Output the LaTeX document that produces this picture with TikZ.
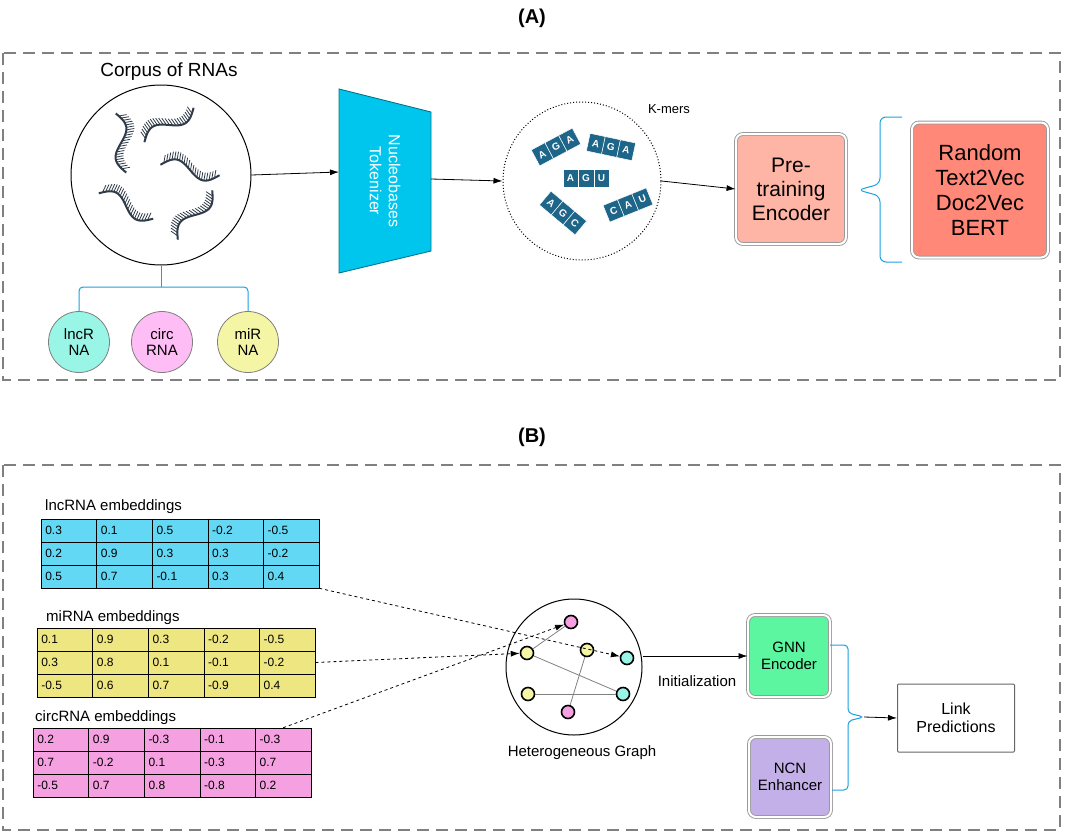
\documentclass[tikz,border=0pt]{standalone}
\usepackage{fontspec}
\setmainfont{Liberation Sans}
\usetikzlibrary{arrows.meta,positioning}
\definecolor{rnacol}{HTML}{2F3B48}
\definecolor{tilecol}{HTML}{1D6589}
\definecolor{tokcol}{HTML}{00C6EE}
\definecolor{lnccol}{HTML}{99F5E6}
\definecolor{circcol}{HTML}{FFBDF5}
\definecolor{mircol}{HTML}{F5F5A6}
\definecolor{precol}{HTML}{FFB5A5}
\definecolor{methcol}{HTML}{FF8878}
\definecolor{gnncol}{HTML}{5CF5A0}
\definecolor{ncncol}{HTML}{C3B0E8}
\definecolor{lnctab}{HTML}{62D8F5}
\definecolor{mirtab}{HTML}{EEE680}
\definecolor{circtab}{HTML}{F5A0E0}
\definecolor{bracecol}{HTML}{1A9FE0}
\definecolor{panelcol}{HTML}{808080}
\tikzset{
  panel/.style={draw=panelcol,line width=1.8pt,dash pattern=on 12pt off 7pt},
  arr/.style={-{Latex[length=9pt,width=6pt]},line width=0.8pt},
  dasharr/.style={arr,dashed},
  brace/.style={draw=bracecol,line width=1pt,rounded corners=4pt},
  rnacirc/.style={circle,draw=gray,line width=0.8pt,minimum size=61pt,inner sep=0pt,align=center,font=\fontsize{15}{16}\selectfont},
  dbox/.style={rounded corners=7pt,draw=gray!80,double=white,double distance=2pt,line width=0.9pt,align=center},
  cell/.style={draw,line width=0.6pt,minimum width=55.6pt,minimum height=23pt,inner sep=0pt,text width=47pt,align=left,font=\fontsize{12}{13}\selectfont},
  tablbl/.style={anchor=west,inner sep=0pt,font=\fontsize{15}{16}\selectfont},
  gnode/.style={circle,draw,line width=1.6pt,minimum size=13pt,inner sep=0pt},
  gedge/.style={draw=gray,line width=0.8pt},
}
% one strand of RNA: x, y, angle
\newcommand{\rnastrand}[3]{%
  \begin{scope}[shift={(#1,#2)},rotate=#3]
    \draw[rnacol,line width=2pt] plot[domain=-30:30,samples=25] (\x,{8*sin(6*\x)});
    \foreach \k in {-27,-24.5,...,27}
      \draw[rnacol,line width=0.8pt] (\k,{8*sin(6*\k)}) -- (\k,{8*sin(6*\k)-8});
  \end{scope}}
% one k-mer tile: x, y, angle, three letters
\newcommand{\kmertile}[6]{%
  \begin{scope}[shift={(#1,#2)},rotate=#3]
    \foreach \l [count=\i] in {#4,#5,#6}
      \node[fill=tilecol,draw=white,line width=0.5pt,minimum width=15.5pt,minimum height=18pt,inner sep=0pt,text=white,font=\fontsize{10}{10}\selectfont\bfseries,rotate=#3] at ({(\i-2)*15.5},0) {\l};
  \end{scope}}
\begin{document}
\begin{tikzpicture}[x=1pt,y=-1pt]
\useasboundingbox (0,0) rectangle (1065,835);
% (A)
\node[font=\fontsize{20}{22}\selectfont\bfseries] (titleA) at (532,18) {(A)};
\draw[panel] (3,53) rectangle (1060,380);
\node[font=\fontsize{19}{20}\selectfont] (corpuslbl) at (169,72) {Corpus of RNAs};
\node[circle,draw,line width=1pt,minimum size=180pt,inner sep=0pt] (corpus) at (161,175) {};
\rnastrand{121}{143}{-80}
\rnastrand{169}{125}{35}
\rnastrand{190}{170}{-10}
\rnastrand{126}{206}{-25}
\rnastrand{195}{215}{55}
\node[rnacirc,fill=lnccol] (lnc) at (79,342) {lncR\\NA};
\node[rnacirc,fill=circcol] (circ) at (162,342) {circ\\RNA};
\node[rnacirc,fill=mircol] (mir) at (248,342) {miR\\NA};
\coordinate (bsplit) at (161,287);
\draw[brace] (corpus.south) -- (bsplit);
\draw[brace] (lnc.north) -- (lnc.north |- bsplit) -- (mir.north |- bsplit) -- (mir.north);
% tokenizer
\coordinate (t1) at (339,89);
\coordinate (t2) at (431,112);
\coordinate (t3) at (431,251);
\coordinate (t4) at (339,273);
\fill[tokcol] (t1) -- (t2) -- (t3) -- (t4) -- cycle;
\draw[line width=0.9pt,tokcol!60!black] (t1) -- (t2) -- (t3) -- (t4) -- cycle;
\node[rotate=-90,text=white,align=center,font=\fontsize{16}{19}\selectfont] (tok) at (385,181) {Nucleobases\\Tokenizer};
\draw[arr] (corpus.east) -- (339,172);
% k-mers
\node[circle,draw,dotted,line width=1pt,minimum size=158pt,inner sep=0pt] (kmers) at (582,181) {};
\node[font=\fontsize{13}{14}\selectfont] (kmerlbl) at (669,109) {K-mers};
\draw[arr] (431,179) -- (kmers.west);
\kmertile{556}{147}{28}{A}{G}{A}
\kmertile{611}{147}{-12}{A}{G}{A}
\kmertile{586}{178}{0}{A}{G}{U}
\kmertile{563}{213}{-40}{A}{G}{C}
\kmertile{628}{205}{22}{C}{A}{U}
% encoder
\node[dbox,fill=precol,minimum width=110pt,minimum height=110pt,font=\fontsize{21}{24}\selectfont] (pre) at (791,189) {Pre-\\training\\Encoder};
\draw[arr] (kmers.east) -- (pre.west);
\node[dbox,fill=methcol,minimum width=136pt,minimum height=135pt,font=\fontsize{22}{25}\selectfont] (meth) at (980,190) {Random\\Text2Vec\\Doc2Vec\\BERT};
\draw[brace,rounded corners=6pt] (902,117) -- (880,117) -- (880,184) -- (858,190) -- (880,196) -- (880,262) -- (902,262);
% (B)
\node[font=\fontsize{20}{22}\selectfont\bfseries] (titleB) at (532,437) {(B)};
\draw[panel] (3,465) rectangle (1060,830);
\node[tablbl] (lnclbl) at (45,507) {lncRNA embeddings};
\node[tablbl] (mirlbl) at (46,618) {miRNA embeddings};
\node[tablbl] (circlbl) at (35,718) {circRNA embeddings};
\foreach \row [count=\r] in {{0.3,0.1,0.5,-0.2,-0.5},{0.2,0.9,0.3,0.3,-0.2},{0.5,0.7,-0.1,0.3,0.4}}
  \foreach \v [count=\c] in \row
    \node[cell,fill=lnctab] (lnc-\r-\c) at ({41+27.8+(\c-1)*55.6},{519+11.5+(\r-1)*23}) {\v};
\foreach \row [count=\r] in {{0.1,0.9,0.3,-0.2,-0.5},{0.3,0.8,0.1,-0.1,-0.2},{-0.5,0.6,0.7,-0.9,0.4}}
  \foreach \v [count=\c] in \row
    \node[cell,fill=mirtab] (mir-\r-\c) at ({37+27.8+(\c-1)*55.6},{628+11.5+(\r-1)*23}) {\v};
\foreach \row [count=\r] in {{0.2,0.9,-0.3,-0.1,-0.3},{0.7,-0.2,0.1,-0.3,0.7},{-0.5,0.7,0.8,-0.8,0.2}}
  \foreach \v [count=\c] in \row
    \node[cell,fill=circtab] (circ-\r-\c) at ({33+27.8+(\c-1)*55.6},{728+11.5+(\r-1)*23}) {\v};
% heterogeneous graph
\node[circle,draw,line width=1pt,minimum size=136pt,inner sep=0pt] (graph) at (574,667) {};
\node[font=\fontsize{15}{16}\selectfont] (graphlbl) at (582,753) {Heterogeneous Graph};
\node[gnode,fill=circtab] (gp1) at (571,622) {};
\node[gnode,fill=mircol] (gy1) at (527,653) {};
\node[gnode,fill=mircol] (gy2) at (587,650) {};
\node[gnode,fill=lnccol] (gc1) at (627,658) {};
\node[gnode,fill=mircol] (gy3) at (528,694) {};
\node[gnode,fill=lnccol] (gc2) at (623,694) {};
\node[gnode,fill=circtab] (gp2) at (568,712) {};
\draw[gedge] (gy1) -- (gp1);
\draw[gedge] (gy1) -- (gc2);
\draw[gedge] (gy3) -- (gc2);
\draw[gedge] (gy2) -- (gp2);
\draw[dasharr] (lnc-3-5.south east) -- (gc1);
\draw[dasharr] (mir-2-5.east) -- (gy1);
\draw[dasharr] (circ-1-5.north) -- (gp1);
% encoders
\node[dbox,fill=gnncol,minimum width=82pt,minimum height=82pt,font=\fontsize{15}{17}\selectfont] (gnn) at (789,656) {GNN\\Encoder};
\node[dbox,fill=ncncol,minimum width=82pt,minimum height=80pt,font=\fontsize{15}{17}\selectfont] (ncn) at (790,777) {NCN\\Enhancer};
\draw[arr] (graph.east |- gnn.west) -- (gnn.west);
\node[font=\fontsize{15}{16}\selectfont] (initlbl) at (697,681) {Initialization};
\node[draw=gray!80!black,line width=1pt,rounded corners=1pt,minimum width=117pt,minimum height=68pt,align=center,font=\fontsize{16}{18}\selectfont] (link) at (956,718) {Link\\Predictions};
\coordinate (btip) at (864,717);
\draw[brace] (830,645) -- (848,645) -- (848,713) -- (btip) -- (848,721) -- (848,790) -- (832,790);
\draw[arr] (btip) -- (link.west);
\end{tikzpicture}
\end{document}
